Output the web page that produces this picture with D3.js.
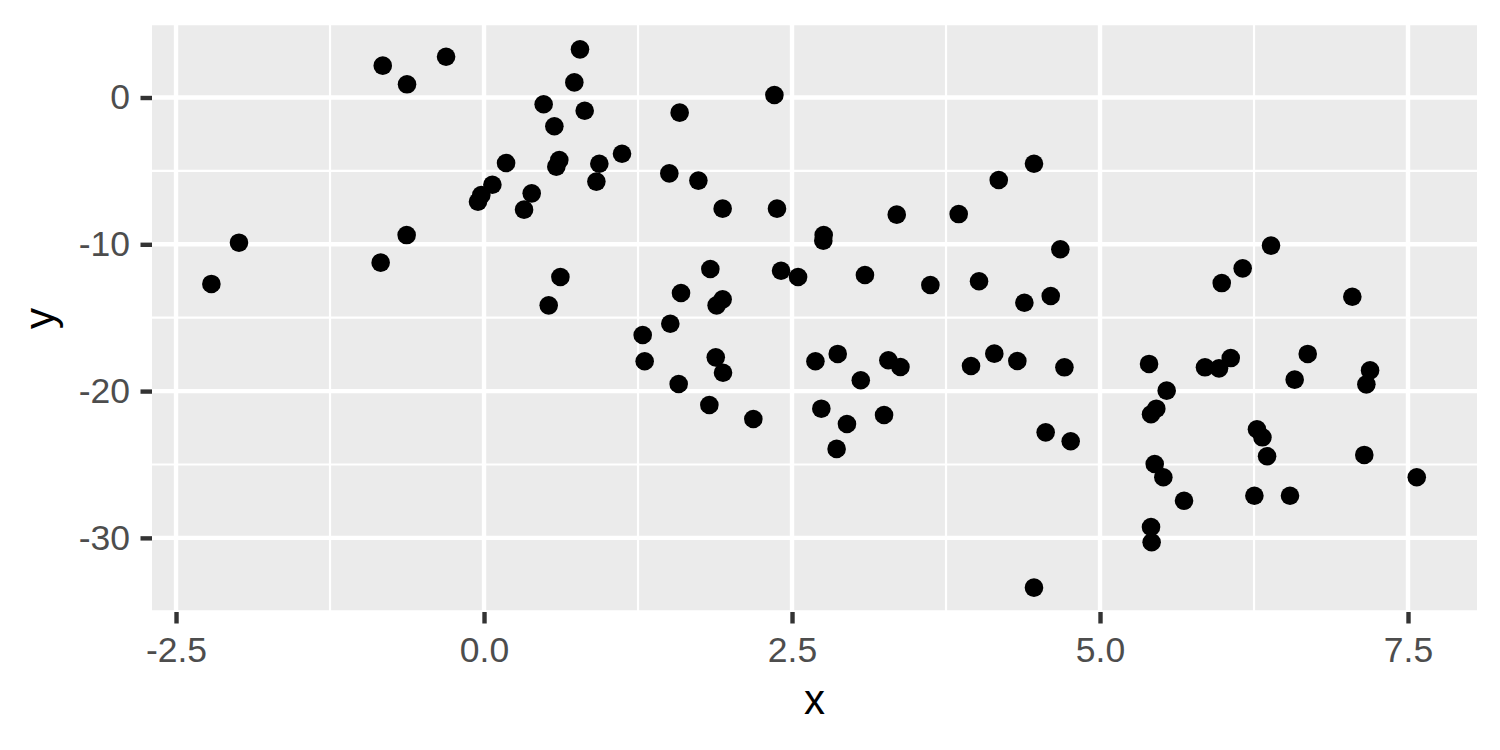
<!DOCTYPE html>
<html><head><meta charset="utf-8">
<script src="https://cdn.jsdelivr.net/npm/d3@7"></script>
<style>html,body{margin:0;padding:0;background:#fff;}</style>
</head><body>
<svg id="chart" width="1500" height="750"></svg>
<script>
const xValues = [-0.822,-0.625,-0.308,0.779,0.733,0.484,0.817,0.571,1.120,0.179,0.611,0.587,0.936,0.912,0.068,-0.022,-0.049,0.387,0.325,-1.989,-2.213,-0.628,-0.839,0.620,0.525,
1.588,2.357,1.504,1.740,1.937,2.378,2.757,2.754,3.350,3.853,4.178,4.464,4.678,1.837,1.599,1.937,1.888,2.411,2.549,3.092,3.623,4.018,4.386,4.600,1.512,
5.988,6.158,6.388,7.048,1.288,1.304,1.881,1.940,1.580,1.829,2.186,2.690,2.871,3.282,3.380,3.058,2.738,2.946,3.247,2.862,3.953,4.142,4.329,4.711,4.559,4.762,4.464,
5.398,5.852,5.966,6.061,6.686,6.580,7.192,7.162,5.541,5.457,5.414,6.274,6.318,6.356,7.145,5.444,5.514,7.571,5.682,6.253,6.542,5.414,5.419];
const yValues = [2.17,0.90,2.78,3.28,1.03,-0.46,-0.90,-1.96,-3.83,-4.46,-4.26,-4.71,-4.51,-5.73,-5.94,-6.64,-7.10,-6.53,-7.64,-9.89,-12.70,-9.37,-11.25,-12.23,-14.16,
-1.03,0.17,-5.17,-5.66,-7.57,-7.57,-9.37,-9.75,-7.98,-7.94,-5.62,-4.51,-10.34,-11.68,-13.32,-13.75,-14.16,-11.80,-12.23,-12.09,-12.77,-12.52,-13.98,-13.52,-15.41,
-12.64,-11.64,-10.09,-13.57,-16.18,-17.97,-17.70,-18.75,-19.52,-20.95,-21.90,-17.97,-17.47,-17.90,-18.36,-19.26,-21.20,-22.24,-21.63,-23.94,-18.29,-17.45,-17.95,-18.38,-22.81,-23.42,-33.39,
-18.15,-18.38,-18.45,-17.75,-17.47,-19.22,-18.59,-19.54,-19.97,-21.20,-21.58,-22.60,-23.15,-24.44,-24.35,-24.97,-25.87,-25.87,-27.47,-27.13,-27.13,-29.26,-30.30];
const xTicks = [-2.5, 0, 2.5, 5, 7.5];
const xTickLabels = ["-2.5", "0.0", "2.5", "5.0", "7.5"];
const xMinor = [-1.25, 1.25, 3.75, 6.25];
const yTicks = [0, -10, -20, -30];
const yTickLabels = ["0", "-10", "-20", "-30"];
const yMinor = [5, -5, -15, -25, -35];

const data = xValues.map((x, i) => ({x, y: yValues[i]}));
const P = {left: 152, right: 1477, top: 25, bottom: 612};
const svg = d3.select("#chart");
const x = d3.scaleLinear().domain([-2.695, 8.06]).range([P.left, P.right]);
const y = d3.scaleLinear().domain([-35.05, 4.94]).range([P.bottom, P.top]);
const FONT = "'Liberation Sans', Arial, sans-serif";

svg.append("defs").append("clipPath").attr("id","clip").append("rect")
  .attr("x",P.left).attr("y",P.top).attr("width",P.right-P.left).attr("height",P.bottom-P.top);
svg.append("rect").attr("x",P.left).attr("y",P.top).attr("width",P.right-P.left).attr("height",P.bottom-P.top).attr("fill","#EBEBEB");
const g = svg.append("g").attr("clip-path","url(#clip)");
g.selectAll(".xmin").data(xMinor).enter().append("line").attr("x1",d=>x(d)).attr("x2",d=>x(d)).attr("y1",P.top).attr("y2",P.bottom).attr("stroke","#fff").attr("stroke-width",2.2);
g.selectAll(".ymin").data(yMinor).enter().append("line").attr("y1",d=>y(d)).attr("y2",d=>y(d)).attr("x1",P.left).attr("x2",P.right).attr("stroke","#fff").attr("stroke-width",2.2);
g.selectAll(".xmaj").data(xTicks).enter().append("line").attr("x1",d=>x(d)).attr("x2",d=>x(d)).attr("y1",P.top).attr("y2",P.bottom).attr("stroke","#fff").attr("stroke-width",4.4);
g.selectAll(".ymaj").data(yTicks).enter().append("line").attr("y1",d=>y(d)).attr("y2",d=>y(d)).attr("x1",P.left).attr("x2",P.right).attr("stroke","#fff").attr("stroke-width",4.4);

g.selectAll("circle").data(data).enter().append("circle")
  .attr("cx",d=>x(d.x)).attr("cy",d=>y(d.y)).attr("r",9.3).attr("fill","#000");

const xAxis = d3.axisBottom(x).tickValues(xTicks).tickFormat((d,i)=>xTickLabels[i]).tickSize(11.5).tickPadding(13);
const ax = svg.append("g").attr("transform",`translate(0,${P.bottom})`).call(xAxis);
const yAxis = d3.axisLeft(y).tickValues(yTicks).tickFormat((d,i)=>yTickLabels[i]).tickSize(11.5).tickPadding(10.5);
const ay = svg.append("g").attr("transform",`translate(${P.left},0)`).call(yAxis);
[ax, ay].forEach(a => {
  a.select(".domain").remove();
  a.selectAll(".tick line").attr("stroke","#333333").attr("stroke-width",4.4);
  a.selectAll(".tick text").attr("fill","#4D4D4D").style("font-family",FONT).style("font-size","35.5px");
});

svg.append("text").attr("x",(P.left+P.right)/2).attr("y",714).attr("text-anchor","middle")
  .style("font-family",FONT).style("font-size","42px").attr("fill","#000").text("x");
svg.append("text").attr("transform",`translate(53.5,${(P.top+P.bottom)/2}) rotate(-90)`).attr("text-anchor","middle")
  .style("font-family",FONT).style("font-size","42px").attr("fill","#000").text("y");
</script>
</body></html>
